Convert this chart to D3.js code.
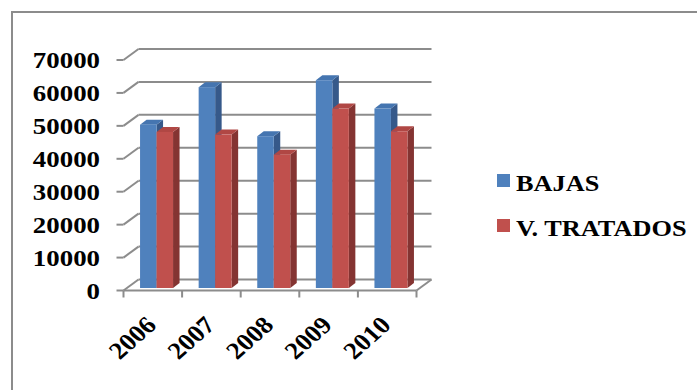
<!DOCTYPE html>
<html><head><meta charset="utf-8">
<script src="https://cdn.jsdelivr.net/npm/d3@7"></script>
<style>body{margin:0;background:#fff}svg{display:block}</style>
</head><body>
<svg id="c" width="697" height="390"></svg>
<script>
const years = ["2006","2007","2008","2009","2010"];
const seriesNames = ["BAJAS","V. TRATADOS"];
const bajas = [49600, 61000, 46100, 63100, 54500];
const tratados = [47400, 46600, 40500, 54500, 47600];
const yTicks = [0,10000,20000,30000,40000,50000,60000,70000];

const frontColors = ["#4F81BD","#C0504D"];
const topColors = ["#4575B0","#B04744"];
const sideColors = ["#36598A","#843432"];
const gridColor = "#8c8c8c";
const font = "'Liberation Serif','Times New Roman',serif";
const SX = 1.12;

const svg = d3.select("#c");
svg.append("path").attr("d","M12,390 L12,12 L697,12").attr("fill","none").attr("stroke",gridColor).attr("stroke-width",2);

const x = d3.scaleBand().domain(years).range([123.5,416.5]);
const y = d3.scaleLinear().domain([0,70000]).range([290.5,60]);
const DX = 15, DY = -11;

const g = svg.append("g");
yTicks.forEach(v=>{
  const yf = y(v);
  g.append("line").attr("x1",123.5+DX).attr("x2",416.5+DX).attr("y1",yf+DY).attr("y2",yf+DY)
    .attr("stroke",gridColor).attr("stroke-width",2);
  g.append("line").attr("x1",123.5).attr("x2",123.5+DX).attr("y1",yf).attr("y2",yf+DY)
    .attr("stroke",gridColor).attr("stroke-width",2);
  g.append("line").attr("x1",116.5).attr("x2",123.5).attr("y1",yf).attr("y2",yf)
    .attr("stroke",gridColor).attr("stroke-width",2);
  const t = svg.append("g").attr("transform",`translate(100,${yf+8}) scale(${SX},1)`);
  t.append("text").attr("text-anchor","end").attr("font-family",font).attr("font-weight","bold")
    .attr("font-size",24).attr("fill","#000").text(v);
});
const y0 = y(0);
g.append("line").attr("x1",123.5).attr("x2",416.5).attr("y1",y0).attr("y2",y0).attr("stroke",gridColor).attr("stroke-width",2);
g.append("line").attr("x1",416.5).attr("x2",416.5+DX).attr("y1",y0).attr("y2",y0+DY).attr("stroke",gridColor).attr("stroke-width",2);
const bounds = years.map(d=>x(d)).concat([x.range()[1]]);
bounds.forEach(bx=>{
  g.append("line").attr("x1",bx).attr("x2",bx).attr("y1",y0).attr("y2",y0+7).attr("stroke",gridColor).attr("stroke-width",2);
});

const data = [bajas, tratados];
const BW = 16.5;
const off = [3.75,-2.5], dep = [6.5,-5];
years.forEach((yr,i)=>{
  const cx = x(yr)+x.bandwidth()/2;
  const xs = d3.scaleBand().domain(seriesNames).range([cx-BW, cx+BW]);
  seriesNames.forEach((s,j)=>{
    const v = data[j][i];
    const xl = xs(s)+off[0], xr = xl+xs.bandwidth();
    const yt = y(v)+off[1], yb = y(0)+off[1];
    g.append("polygon").attr("points",[[xr,yt],[xr+dep[0],yt+dep[1]],[xr+dep[0],yb+dep[1]],[xr,yb]].join(" "))
      .attr("fill",sideColors[j]);
    g.append("polygon").attr("points",[[xl,yt],[xr,yt],[xr+dep[0],yt+dep[1]],[xl+dep[0],yt+dep[1]]].join(" "))
      .attr("fill",topColors[j]);
    g.append("rect").attr("x",xl).attr("y",yt).attr("width",xr-xl).attr("height",yb-yt).attr("fill",frontColors[j]);
  });
  const t = svg.append("g").attr("transform",`translate(${cx+5},${y0+36}) scale(${SX},1) rotate(-45)`);
  t.append("text").attr("text-anchor","end").attr("font-family",font).attr("font-weight","bold")
    .attr("font-size",24).attr("fill","#000").text(yr);
});

seriesNames.forEach((s,j)=>{
  const ly = 174 + j*45;
  svg.append("rect").attr("x",497).attr("y",ly).attr("width",13).attr("height",13).attr("fill",frontColors[j]);
  const t = svg.append("g").attr("transform",`translate(516,${ly+16.5}) scale(${SX},1)`);
  t.append("text").attr("font-family",font).attr("font-weight","bold").attr("font-size",23.5).attr("fill","#000").text(s);
});
</script>
</body></html>
